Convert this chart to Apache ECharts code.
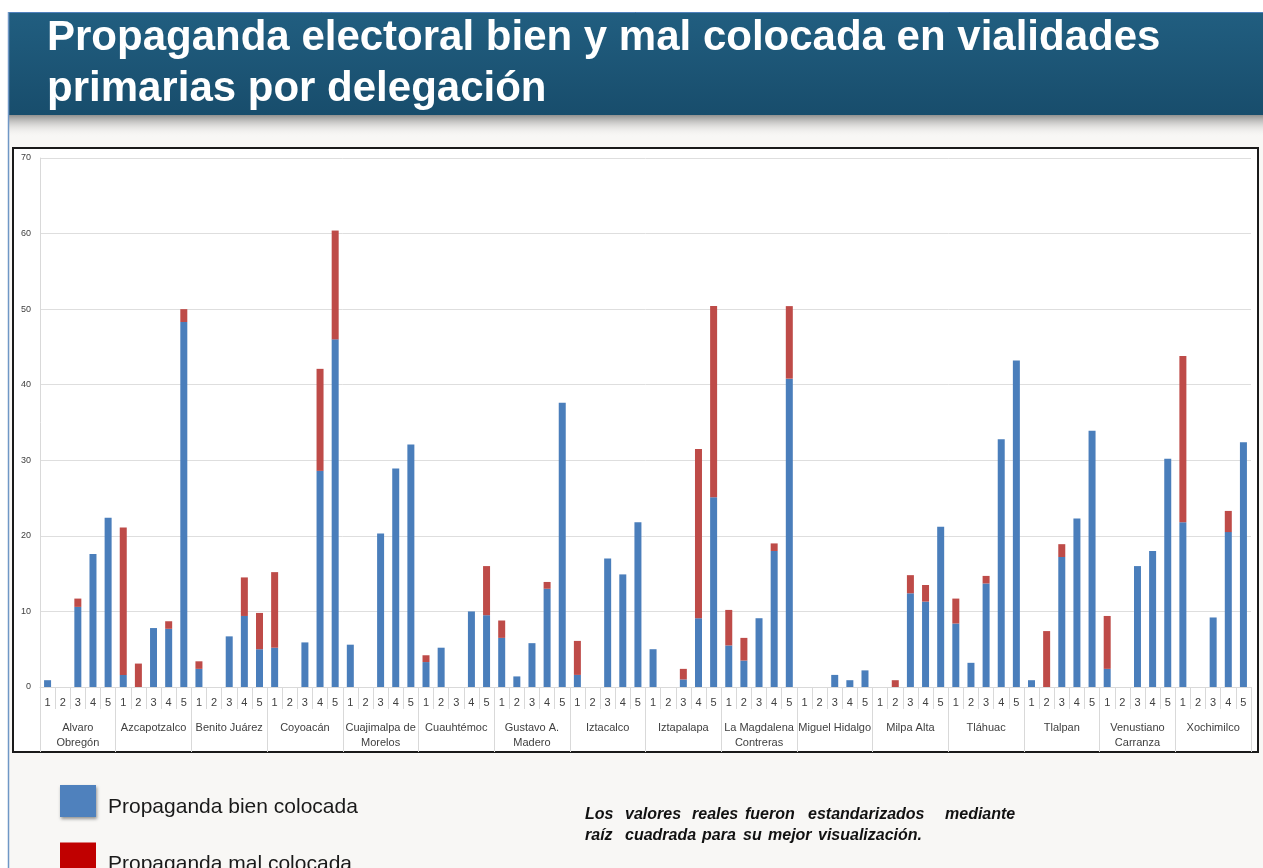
<!DOCTYPE html>
<html>
<head>
<meta charset="utf-8">
<script src="https://cdn.jsdelivr.net/npm/echarts@6/dist/echarts.min.js"></script>
<style>
html,body{margin:0;padding:0;background:#ffffff;}
#c{width:1263px;height:868px;}
</style>
</head>
<body>
<div id="c"></div>
<script>
// ---- data ----
const delegations = [
  'Alvaro\nObregón', 'Azcapotzalco', 'Benito Juárez', 'Coyoacán',
  'Cuajimalpa de\nMorelos', 'Cuauhtémoc', 'Gustavo A.\nMadero', 'Iztacalco',
  'Iztapalapa', 'La Magdalena\nContreras', 'Miguel Hidalgo', 'Milpa Alta',
  'Tláhuac', 'Tlalpan', 'Venustiano\nCarranza', 'Xochimilco'
];
const distritos = ['1', '2', '3', '4', '5'];

// Propaganda bien colocada (blue), 5 values per delegation
const bienValues = [
  0.9, 0, 10.6, 17.6, 22.4,      // Alvaro Obregón
  1.6, 0, 7.8, 7.7, 48.3,        // Azcapotzalco
  2.4, 0, 6.7, 9.4, 5.0,         // Benito Juárez
  5.2, 0, 5.9, 28.6, 46.0,       // Coyoacán
  5.6, 0, 20.3, 28.9, 32.1,      // Cuajimalpa de Morelos
  3.3, 5.2, 0, 10.0, 9.5,        // Cuauhtémoc
  6.5, 1.4, 5.8, 13.0, 37.6,     // Gustavo A. Madero
  1.6, 0, 17.0, 14.9, 21.8,      // Iztacalco
  5.0, 0, 1.0, 9.1, 25.1,        // Iztapalapa
  5.5, 3.5, 9.1, 18.0, 40.8,     // La Magdalena Contreras
  0, 0, 1.6, 0.9, 2.2,           // Miguel Hidalgo
  0, 0, 12.4, 11.3, 21.2,        // Milpa Alta
  8.4, 3.2, 13.7, 32.8, 43.2,    // Tláhuac
  0.9, 0, 17.2, 22.3, 33.9,      // Tlalpan
  2.4, 0, 16.0, 18.0, 30.2,      // Venustiano Carranza
  21.8, 0, 9.2, 20.5, 32.4       // Xochimilco
];

// Propaganda mal colocada (red), stacked on top
const malValues = [
  0, 0, 1.1, 0, 0,
  19.5, 3.1, 0, 1.0, 1.7,
  1.0, 0, 0, 5.1, 4.8,
  10.0, 0, 0, 13.5, 14.4,
  0, 0, 0, 0, 0,
  0.9, 0, 0, 0, 6.5,
  2.3, 0, 0, 0.9, 0,
  4.5, 0, 0, 0, 0,
  0, 0, 1.4, 22.4, 25.3,
  4.7, 3.0, 0, 1.0, 9.6,
  0, 0, 0, 0, 0,
  0, 0.9, 2.4, 2.2, 0,
  3.3, 0, 1.0, 0, 0,
  0, 7.4, 1.7, 0, 0,
  7.0, 0, 0, 0, 0,
  22.0, 0, 0, 2.8, 0
];

const seriesNames = ['Propaganda bien colocada', 'Propaganda mal colocada'];
const yMin = 0, yMax = 70, yStep = 10;
const titleLines = ['Propaganda electoral bien y mal colocada en vialidades', 'primarias por delegación'];
const noteLine1Words = ['Los', 'valores', 'reales', 'fueron', 'estandarizados', 'mediante'];
const noteLine2Words = ['raíz', 'cuadrada', 'para', 'su', 'mejor', 'visualización.'];

// ---- build ----
const categories = [];
delegations.forEach(d => distritos.forEach(n => categories.push(d + '|' + n)));

const FONT = '"Liberation Sans", Arial, sans-serif';
const AXISFONT = '"Liberation Sans", Arial, sans-serif';

const note1X = [585, 625, 692, 745, 808, 945];
const note2X = [585, 625, 702, 743, 768, 818];

const graphics = [
  { type: 'rect', z: -100, silent: true, shape: { x: 8, y: 12, width: 1255, height: 856 }, style: { fill: '#f8f7f5' } },
  { type: 'rect', z: -90, silent: true, shape: { x: 8, y: 12, width: 1255, height: 103 },
    style: { fill: new echarts.graphic.LinearGradient(0, 0, 0, 1, [
      { offset: 0, color: '#215e80' }, { offset: 1, color: '#184d6c' }]) } },
  { type: 'rect', z: -90, silent: true, shape: { x: 8, y: 115, width: 1255, height: 22 },
    style: { fill: new echarts.graphic.LinearGradient(0, 0, 0, 1, [
      { offset: 0, color: 'rgba(60,60,60,0.55)' }, { offset: 1, color: 'rgba(248,247,245,0)' }]) } },
  { type: 'line', z: -80, silent: true, shape: { x1: 8, y1: 12.5, x2: 1263, y2: 12.5 }, style: { stroke: '#4f81bd', lineWidth: 1 } },
  { type: 'line', z: -80, silent: true, shape: { x1: 8.5, y1: 12, x2: 8.5, y2: 868 }, style: { stroke: '#6f97c6', lineWidth: 1.5 } },
  { type: 'rect', z: -70, silent: true, shape: { x: 13, y: 148, width: 1245, height: 604 },
    style: { fill: '#ffffff', stroke: '#1a1a1a', lineWidth: 2 } },
  { type: 'text', z: 10, x: 47, y: 38, style: { text: titleLines[0], fill: '#ffffff', font: 'bold 42px ' + FONT, verticalAlign: 'middle', align: 'left' } },
  { type: 'text', z: 10, x: 47, y: 89, style: { text: titleLines[1], fill: '#ffffff', font: 'bold 42px ' + FONT, verticalAlign: 'middle', align: 'left' } }
];
noteLine1Words.forEach((w, i) => graphics.push({ type: 'text', z: 10, x: note1X[i], y: 815,
  style: { text: w, fill: '#111111', font: 'italic bold 16px ' + FONT, verticalAlign: 'middle', align: 'left' } }));
noteLine2Words.forEach((w, i) => graphics.push({ type: 'text', z: 10, x: note2X[i], y: 836,
  style: { text: w, fill: '#111111', font: 'italic bold 16px ' + FONT, verticalAlign: 'middle', align: 'left' } }));

const chart = echarts.init(document.getElementById('c'), null, { renderer: 'canvas' });
chart.setOption({
  backgroundColor: '#ffffff',
  animation: false,
  graphic: graphics,
  grid: { left: 40, right: 12, top: 158, bottom: 181, containLabel: false },
  legend: {
    orient: 'vertical', left: 55, top: 780, height: 200, itemWidth: 36, itemHeight: 32, itemGap: 25,
    icon: 'rect', selectedMode: false,
    formatter: name => '{t|' + name + '}',
    textStyle: {
      fontSize: 21, color: '#1a1a1a', fontFamily: FONT,
      rich: { t: { fontSize: 21, color: '#1a1a1a', fontFamily: FONT, padding: [12, 0, 0, 7] } }
    },
    data: [
      { name: seriesNames[0], itemStyle: { color: '#4f81bd', shadowBlur: 3, shadowColor: 'rgba(0,0,0,0.4)', shadowOffsetX: 1, shadowOffsetY: 2 } },
      { name: seriesNames[1], itemStyle: { color: '#c00000' } }
    ]
  },
  xAxis: [
    {
      type: 'category', data: categories, boundaryGap: true, position: 'bottom',
      axisLine: { show: true, lineStyle: { color: '#d9d9d9', width: 1 } },
      axisTick: { show: true, interval: 0, length: 22, lineStyle: { color: '#d9d9d9' } },
      axisLabel: { interval: 0, margin: 10, fontSize: 11, color: '#404040', fontFamily: AXISFONT,
        formatter: v => v.split('|')[1] },
      splitLine: { show: false }
    },
    {
      type: 'category', data: delegations, boundaryGap: true, position: 'bottom',
      axisLine: { show: false },
      axisTick: { show: true, interval: 0, length: 65, lineStyle: { color: '#d9d9d9' } },
      axisLabel: { interval: 0, margin: 33, fontSize: 11, lineHeight: 15, color: '#404040', fontFamily: AXISFONT },
      splitLine: { show: false }
    }
  ],
  yAxis: {
    type: 'value', min: yMin, max: yMax, interval: yStep,
    axisLine: { show: true, lineStyle: { color: '#d9d9d9' } },
    axisTick: { show: false },
    axisLabel: { fontSize: 9, color: '#404040', margin: 9, fontFamily: AXISFONT },
    splitLine: { show: true, lineStyle: { color: '#dedede', width: 1 } }
  },
  series: [
    { name: seriesNames[0], type: 'bar', stack: 'total', xAxisIndex: 0, data: bienValues,
      barWidth: 7, itemStyle: { color: '#4a7ebb' } },
    { name: seriesNames[1], type: 'bar', stack: 'total', xAxisIndex: 0, data: malValues,
      barWidth: 7, itemStyle: { color: '#be4b48' } }
  ]
});
</script>
</body>
</html>
